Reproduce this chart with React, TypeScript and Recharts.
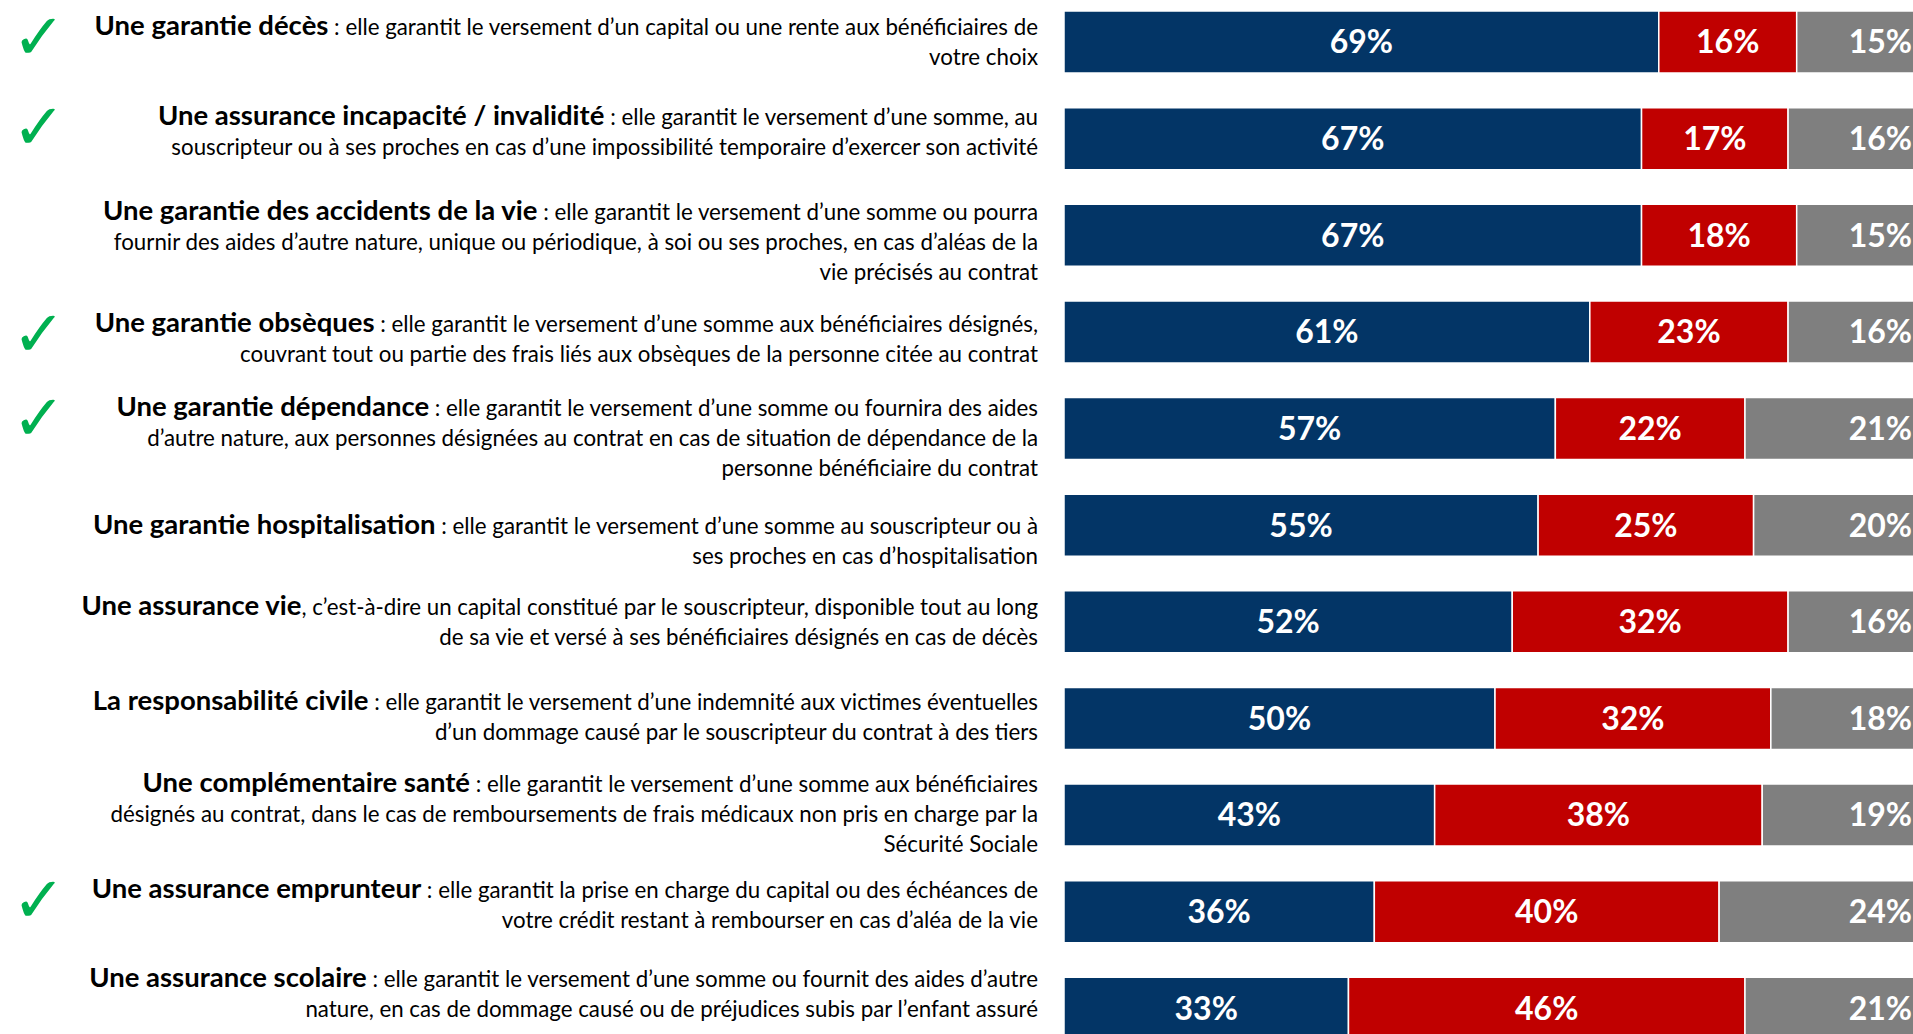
import React from 'react';
import { BarChart, Bar, XAxis, YAxis, LabelList } from 'recharts';

const titles = [
  'Une garantie décès',
  'Une assurance incapacité / invalidité',
  'Une garantie des accidents de la vie',
  'Une garantie obsèques',
  'Une garantie dépendance',
  'Une garantie hospitalisation',
  'Une assurance vie',
  'La responsabilité civile',
  'Une complémentaire santé',
  'Une assurance emprunteur',
  'Une assurance scolaire',
];

const descFirst = [
  ' : elle garantit le versement d’un capital ou une rente aux bénéficiaires de',
  ' : elle garantit le versement d’une somme, au',
  ' : elle garantit le versement d’une somme ou pourra',
  ' : elle garantit le versement d’une somme aux bénéficiaires désignés,',
  ' : elle garantit le versement d’une somme ou fournira des aides',
  ' : elle garantit le versement d’une somme au souscripteur ou à',
  ', c’est-à-dire un capital constitué par le souscripteur, disponible tout au long',
  ' : elle garantit le versement d’une indemnité aux victimes éventuelles',
  ' : elle garantit le versement d’une somme aux bénéficiaires',
  ' : elle garantit la prise en charge du capital ou des échéances de',
  ' : elle garantit le versement d’une somme ou fournit des aides d’autre',
];

const descRest = [
  ['votre choix'],
  ['souscripteur ou à ses proches en cas d’une impossibilité temporaire d’exercer son activité'],
  ['fournir des aides d’autre nature, unique ou périodique, à soi ou ses proches, en cas d’aléas de la', 'vie précisés au contrat'],
  ['couvrant tout ou partie des frais liés aux obsèques de la personne citée au contrat'],
  ['d’autre nature, aux personnes désignées au contrat en cas de situation de dépendance de la', 'personne bénéficiaire du contrat'],
  ['ses proches en cas d’hospitalisation'],
  ['de sa vie et versé à ses bénéficiaires désignés en cas de décès'],
  ['d’un dommage causé par le souscripteur du contrat à des tiers'],
  ['désignés au contrat, dans le cas de remboursements de frais médicaux non pris en charge par la', 'Sécurité Sociale'],
  ['votre crédit restant à rembourser en cas d’aléa de la vie'],
  ['nature, en cas de dommage causé ou de préjudices subis par l’enfant assuré'],
];

const checked = [true, true, false, true, true, false, false, false, false, true, false];

const yesValues = [69, 67, 67, 61, 57, 55, 52, 50, 43, 36, 33];
const noValues = [16, 17, 18, 23, 22, 25, 32, 32, 38, 40, 46];
const otherValues = [15, 16, 15, 16, 21, 20, 16, 18, 19, 24, 21];

// small vertical layout nudges of the text blocks relative to their bar (layout only)
const textNudge = [0, -7, 6, 7, 9, 15, 0, -2, -1, -7, -15];

const data = titles.map((t, i) => ({
  id: String(i),
  yes: yesValues[i],
  no: noValues[i],
  other: otherValues[i],
}));

const FONT = 'Lato, sans-serif';
const TITLE_SIZE = 27.5;
const TEXT_SIZE = 22.3;
const LINE_H = 30;

const Tick = (props: any) => {
  const { x, y, payload } = props;
  const i = Number(payload.value);
  const n = 1 + descRest[i].length;
  const y0 = y + textNudge[i] - ((n - 1) * LINE_H) / 2 + TEXT_SIZE * 0.36;
  return (
    <g>
      {checked[i] && (
        <text x={12} y={y0 + 24} fontFamily="DejaVu Sans" fontSize={64} fill="#00B050">
          ✓
        </text>
      )}
      <text textAnchor="end" fontFamily={FONT} fontSize={TEXT_SIZE} fill="#000">
        <tspan x={x} y={y0} fontWeight={700} fontSize={TITLE_SIZE}>{titles[i]}</tspan>
        <tspan fontWeight={400}>{descFirst[i]}</tspan>
        {descRest[i].map((l, k) => (
          <tspan key={k} x={x} y={y0 + (k + 1) * LINE_H} fontWeight={400}>
            {l}
          </tspan>
        ))}
      </text>
    </g>
  );
};

const pct = (v: any) => `${v}%`;

export default function App() {
  return (
    <div style={{ position: 'absolute', left: 0, top: 0, width: 1913, height: 1034, overflow: 'hidden', background: '#fff' }}>
      <div style={{ position: 'absolute', left: 0, top: -6 }}>
        <BarChart
          width={1926}
          height={1063}
          data={data}
          layout="vertical"
          margin={{ top: 0, right: 0, bottom: 0, left: 0 }}
          barSize={62}
        >
          <XAxis type="number" domain={[0, 100]} hide />
          <YAxis
            type="category"
            dataKey="id"
            width={1064}
            tickSize={0}
            tickMargin={26}
            axisLine={false}
            tickLine={false}
            tick={<Tick />}
            interval={0}
          />
          <Bar dataKey="yes" stackId="a" fill="#033566" stroke="#fff" strokeWidth={1.5} isAnimationActive={false}>
            <LabelList dataKey="yes" position="center" formatter={pct} fill="#fff" fontSize={32} fontWeight={700} fontFamily={FONT} />
          </Bar>
          <Bar dataKey="no" stackId="a" fill="#C00000" stroke="#fff" strokeWidth={1.5} isAnimationActive={false}>
            <LabelList dataKey="no" position="center" formatter={pct} fill="#fff" fontSize={32} fontWeight={700} fontFamily={FONT} />
          </Bar>
          <Bar dataKey="other" stackId="a" fill="#7F7F7F" stroke="#fff" strokeWidth={1.5} isAnimationActive={false}>
            <LabelList dataKey="other" position="insideRight" offset={14} formatter={pct} fill="#fff" fontSize={32} fontWeight={700} fontFamily={FONT} />
          </Bar>
        </BarChart>
      </div>
    </div>
  );
}
